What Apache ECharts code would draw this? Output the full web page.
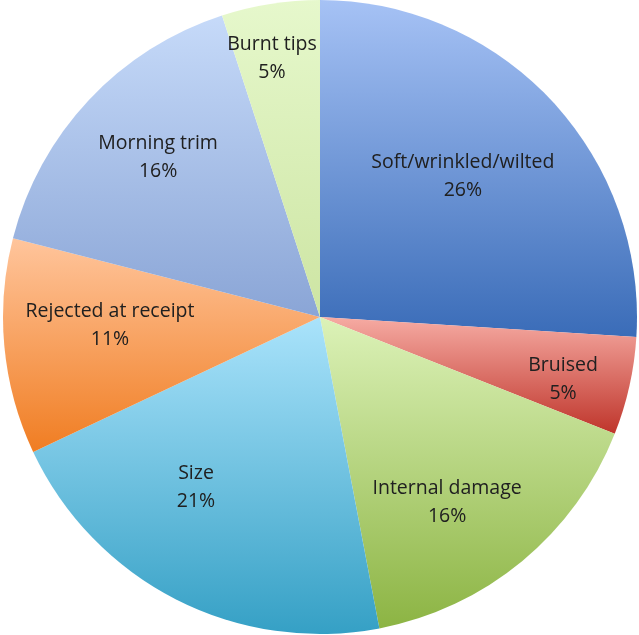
<!DOCTYPE html>
<html>
<head>
<meta charset="utf-8">
<script src="https://cdn.jsdelivr.net/npm/echarts@6/dist/echarts.min.js"></script>
<style>
  html, body { margin: 0; padding: 0; background: #ffffff; }
  #chart { width: 639px; height: 635px; }
</style>
</head>
<body>
<div id="chart"></div>
<script>
// Causes of product loss, share of total
const categories = [
  'Soft/wrinkled/wilted',
  'Bruised',
  'Internal damage',
  'Size',
  'Rejected at receipt',
  'Morning trim',
  'Burnt tips'
];
const values = [26, 5, 16, 21, 11, 16, 5];

// Top and bottom colours of each slice's vertical gradient
const topColors = ['#a6c2f5', '#f6aba3', '#dcf2b8', '#aae3fb', '#ffc59c', '#c6daf9', '#e6f8cc'];
const bottomColors = ['#3a6cb8', '#bf352b', '#8cb443', '#35a0c5', '#f07d22', '#8aa5d6', '#cde5a3'];

// Label placement: distance from the centre (fraction of radius)
// and a small angular nudge (degrees) away from the slice's mid-angle
const labelRadius = [0.633, 0.792, 0.708, 0.664, 0.663, 0.716, 0.831];
const labelAngleShift = [-1.4, 1.9, 5.1, 9.1, 3.2, 1.3, -1.5];

const cx = 320, cy = 317, R = 317;
const labelFontSize = 19.5;

const chart = echarts.init(document.getElementById('chart'), null, { renderer: 'canvas' });

const seriesData = categories.map((name, i) => ({
  name: name,
  value: values[i],
  itemStyle: {
    color: new echarts.graphic.LinearGradient(0, 0, 0, 1, [
      { offset: 0, color: topColors[i] },
      { offset: 1, color: bottomColors[i] }
    ])
  }
}));

chart.setOption({
  animation: false,
  backgroundColor: '#ffffff',
  series: [{
    type: 'pie',
    center: [cx, cy],
    radius: [0, R],
    startAngle: 90,
    clockwise: true,
    percentPrecision: 0,
    avoidLabelOverlap: false,
    data: seriesData,
    itemStyle: { borderWidth: 0 },
    label: {
      show: true,
      position: 'inside',
      formatter: '{b}\n{d}%',
      fontFamily: 'Open Sans',
      fontSize: labelFontSize,
      lineHeight: 28,
      color: '#202020',
      align: 'center',
      verticalAlign: 'middle'
    },
    labelLine: { show: false },
    labelLayout: function (params) {
      // take the slice's mid-angle from the default label, then re-place it
      const rect = params.labelRect;
      const lx = rect.x + rect.width / 2;
      const ly = rect.y + rect.height / 2;
      const i = params.dataIndex;
      const a = Math.atan2(lx - cx, cy - ly) + labelAngleShift[i] * Math.PI / 180;
      const r = labelRadius[i] * R;
      return {
        x: cx + r * Math.sin(a),
        y: cy - r * Math.cos(a),
        align: 'center',
        verticalAlign: 'middle'
      };
    }
  }]
});
</script>
</body>
</html>
